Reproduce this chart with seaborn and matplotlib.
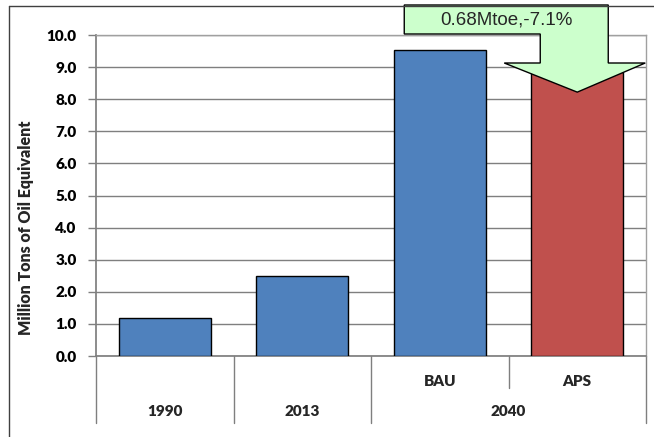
import matplotlib
matplotlib.use("Agg")
import matplotlib.pyplot as plt
import seaborn as sns
import pandas as pd
from matplotlib.patches import Polygon
import matplotlib.transforms as mtransforms

# ---- data ----
bar_labels = ["1990", "2013", "BAU", "APS"]
values = [1.18, 2.48, 9.53, 8.85]
scenario_labels = ["", "", "BAU", "APS"]
year_groups = ["1990", "2013", "2040"]
year_group_sizes = [1, 1, 2]
bar_colors = ["#4F81BD", "#4F81BD", "#4F81BD", "#C0504D"]
y_ticks = [0.0, 1.0, 2.0, 3.0, 4.0, 5.0, 6.0, 7.0, 8.0, 9.0, 10.0]
annotation_text = "0.68Mtoe,-7.1%"
ylabel = "Million Tons of Oil Equivalent"

sns.set_theme(style="white")
plt.rcParams['font.family'] = ['Lato', 'DejaVu Sans']

df = pd.DataFrame({"cat": bar_labels, "val": values})

fig = plt.figure(figsize=(6.54, 4.37), dpi=100)
ax = fig.add_axes([96/654, 1 - 356/437, 550/654, 321/437])

sns.barplot(data=df, x="cat", y="val", hue="cat", palette=bar_colors,
            legend=False, width=0.67, edgecolor="black", linewidth=1.0,
            saturation=1, ax=ax, zorder=3)

ax.set_ylim(0, 10)
ax.set_xlim(-0.5, len(bar_labels) - 0.5)
ax.set_yticks(y_ticks)
ax.set_yticklabels([f"{t:.1f}" for t in y_ticks], fontsize=11, fontweight="heavy")
ax.set_xticks([])
ax.set_xlabel("")
ax.set_ylabel(ylabel, fontsize=11.5, fontweight="heavy")
ax.yaxis.set_label_coords(-0.112, 0.40)
ax.grid(axis="y", color="#7F7F7F", linewidth=1.0, zorder=0)
ax.set_axisbelow(True)
for s in ["top", "right"]:
    ax.spines[s].set_color("#A0A0A0")
    ax.spines[s].set_linewidth(1.0)
ax.spines["left"].set_color("#7F7F7F")
ax.spines["bottom"].set_color("#7F7F7F")
ax.tick_params(axis="y", direction="out", length=6, width=1, color="#7F7F7F",
               left=True, pad=8, labelcolor="black")

# multi-level category axis
trans = mtransforms.blended_transform_factory(ax.transData, ax.transAxes)
line_kw = dict(color="#7F7F7F", linewidth=1.0, clip_on=False, transform=trans)
full_bottom = -67/321
short_bottom = -32/321
ax.plot([-0.5, -0.5], [0, full_bottom], **line_kw)
pos = -0.5
for g, n in zip(year_groups, year_group_sizes):
    center = pos + n / 2
    ax.text(center, -55/321, g, transform=trans, ha="center", va="center",
            fontsize=11, fontweight="heavy")
    for k in range(1, n):
        ax.plot([pos + k, pos + k], [0, short_bottom], **line_kw)
    pos += n
    ax.plot([pos, pos], [0, full_bottom], **line_kw)
for i, lab in enumerate(scenario_labels):
    if lab:
        ax.text(i, -25/321, lab, transform=trans, ha="center", va="center",
                fontsize=11, fontweight="heavy")

# callout arrow (down arrow callout) pointing at APS bar
aps_i = bar_labels.index("APS")
tip_y = 8.22
px = 550 / 4  # pixels per category
def xd(p):  # pixel offset from APS center -> data
    return aps_i + p / px
def yd(p):  # pixel y -> data
    return (356 - p) / 32.1
poly = [
    (xd(-173), yd(5)), (xd(31), yd(5)), (xd(31), yd(63)), (xd(68), yd(63)),
    (aps_i, tip_y), (xd(-73), yd(63)), (xd(-37), yd(63)), (xd(-37), yd(34)),
    (xd(-173), yd(34)),
]
ax.add_patch(Polygon(poly, closed=True, facecolor="#CCFFCC", edgecolor="black",
                     linewidth=1.0, clip_on=False, zorder=10))
ax.text((xd(-173) + xd(31)) / 2, yd(20), annotation_text, ha="center",
        va="center", fontsize=13.5, family=["Liberation Sans", "DejaVu Sans"],
        zorder=11)

# outer chart border (left and top visible)
fig.add_artist(plt.Line2D([9/654, 9/654], [0, 1 - 6/437], color="#404040",
                          linewidth=1.0, transform=fig.transFigure))
fig.add_artist(plt.Line2D([9/654, 1], [1 - 6/437, 1 - 6/437], color="#404040",
                          linewidth=1.0, transform=fig.transFigure))

fig.savefig("out.png", dpi=100)
